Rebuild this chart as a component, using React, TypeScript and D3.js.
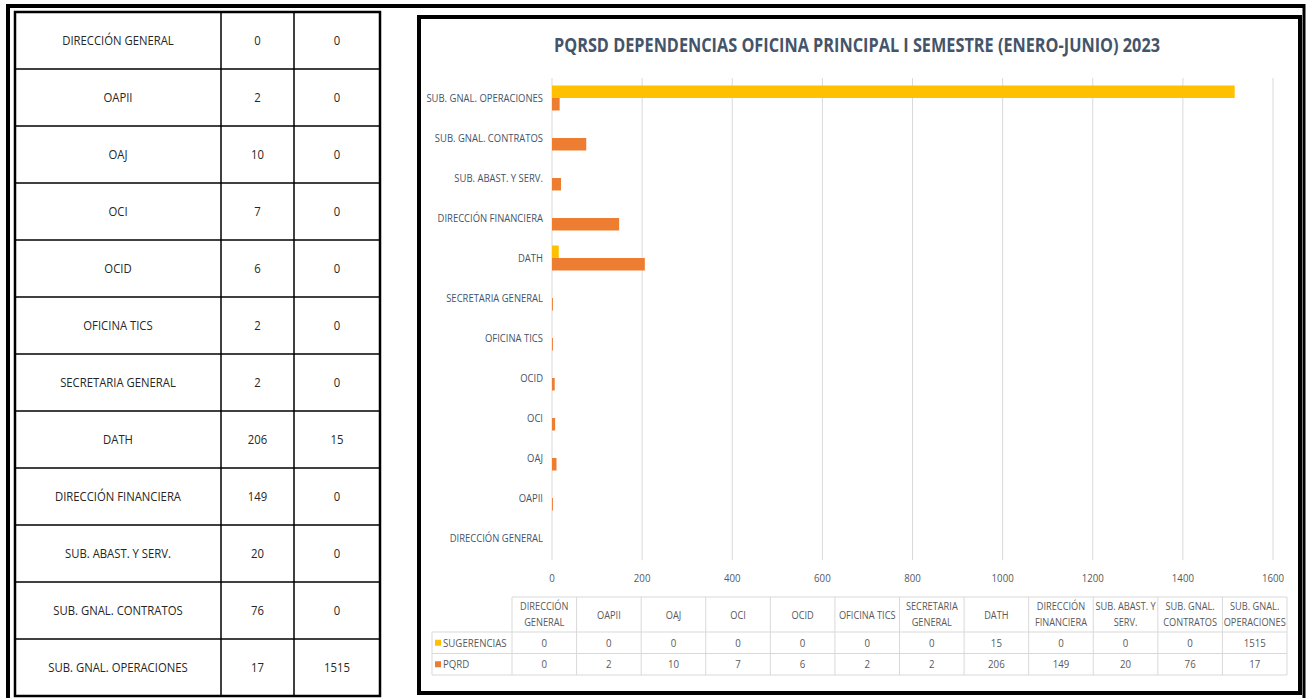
import React from "react";
import * as d3 from "d3";

const categories = [
  "DIRECCIÓN GENERAL",
  "OAPII",
  "OAJ",
  "OCI",
  "OCID",
  "OFICINA TICS",
  "SECRETARIA GENERAL",
  "DATH",
  "DIRECCIÓN FINANCIERA",
  "SUB. ABAST. Y SERV.",
  "SUB. GNAL. CONTRATOS",
  "SUB. GNAL. OPERACIONES",
];
const tableHeaders = [
  ["DIRECCIÓN", "GENERAL"],
  ["OAPII"],
  ["OAJ"],
  ["OCI"],
  ["OCID"],
  ["OFICINA TICS"],
  ["SECRETARIA", "GENERAL"],
  ["DATH"],
  ["DIRECCIÓN", "FINANCIERA"],
  ["SUB. ABAST. Y", "SERV."],
  ["SUB. GNAL.", "CONTRATOS"],
  ["SUB. GNAL.", "OPERACIONES"],
];
const pqrd = [0, 2, 10, 7, 6, 2, 2, 206, 149, 20, 76, 17];
const sugerencias = [0, 0, 0, 0, 0, 0, 0, 15, 0, 0, 0, 1515];
const seriesNames = ["SUGERENCIAS", "PQRD"];
const xTicks = [0, 200, 400, 600, 800, 1000, 1200, 1400, 1600];
const title = "PQRSD DEPENDENCIAS OFICINA PRINCIPAL I SEMESTRE (ENERO-JUNIO) 2023";

const YELLOW = "#FFC000";
const ORANGE = "#ED7D31";
const FONT = "'Open Sans', sans-serif";

type NTextProps = {
  x: number;
  y: number;
  sx?: number;
  anchor?: "start" | "middle" | "end";
  size?: number;
  fill?: string;
  children: React.ReactNode;
};

function NText({ x, y, sx = 0.86, anchor = "middle", size = 11, fill = "#595959", children }: NTextProps) {
  return (
    <text
      transform={`translate(${x},${y}) scale(${sx},1)`}
      textAnchor={anchor}
      dominantBaseline="central"
      fontFamily={FONT}
      fontSize={size}
      fill={fill}
    >
      {children}
    </text>
  );
}

export default function App() {
  // left table
  const tRowH = 57;
  const tTop = 12;
  const tLeft = 15;
  const tRight = 380;
  const col1 = 221;
  const col2 = 294;

  // chart
  const x = d3.scaleLinear().domain([0, 1600]).range([552, 1273]);
  const y = d3
    .scaleBand<string>()
    .domain([...categories].reverse())
    .range([78, 558])
    .paddingInner(0.375)
    .paddingOuter(0.1875);
  const sub = d3.scaleBand<string>().domain(seriesNames).range([0, y.bandwidth()]);
  const values: Record<string, number[]> = {
    SUGERENCIAS: sugerencias,
    PQRD: pqrd,
  };
  const colors: Record<string, string> = { SUGERENCIAS: YELLOW, PQRD: ORANGE };

  // data table
  const dtLeft = 512;
  const dtRight = 1287;
  const colW = (dtRight - dtLeft) / categories.length;
  const legLeft = 432;
  const hTop = 597;
  const r1 = 632;
  const r2 = 653.5;
  const r3 = 675;

  return (
    <svg width={1310} height={698} style={{ position: "absolute", left: 0, top: 0, background: "#fff" }}>
      {/* outer frame */}
      <line x1={6} x2={1305} y1={6} y2={6} stroke="#000" strokeWidth={4} />
      <line x1={8} x2={8} y1={4} y2={698} stroke="#000" strokeWidth={4} />
      <line x1={1304} x2={1304} y1={4} y2={698} stroke="#000" strokeWidth={3} />

      {/* left table */}
      <g>
        <rect
          x={tLeft}
          y={tTop}
          width={tRight - tLeft}
          height={tRowH * categories.length}
          fill="#fff"
          stroke="#000"
          strokeWidth={2.5}
        />
        {categories.map((c, i) => {
          const cy = tTop + i * tRowH + tRowH / 2;
          return (
            <g key={c}>
              {i > 0 && (
                <line x1={tLeft} x2={tRight} y1={tTop + i * tRowH} y2={tTop + i * tRowH} stroke="#000" strokeWidth={1.5} />
              )}
              <NText x={(tLeft + col1) / 2} y={cy} size={13} sx={0.87} fill="#262626">
                {c}
              </NText>
              <NText x={(col1 + col2) / 2} y={cy} size={13} sx={0.87} fill="#262626">
                {pqrd[i]}
              </NText>
              <NText x={(col2 + tRight) / 2} y={cy} size={13} sx={0.87} fill="#262626">
                {sugerencias[i]}
              </NText>
            </g>
          );
        })}
        <line x1={col1} x2={col1} y1={tTop} y2={tTop + tRowH * 12} stroke="#000" strokeWidth={1.5} />
        <line x1={col2} x2={col2} y1={tTop} y2={tTop + tRowH * 12} stroke="#000" strokeWidth={1.5} />
      </g>

      {/* chart box */}
      <rect x={419} y={17} width={881} height={676} fill="#fff" stroke="#000" strokeWidth={4} />

      <text
        x={857}
        y={52}
        textAnchor="middle"
        fontFamily={FONT}
        fontWeight="bold"
        fontSize={19}
        fill="#44546A"
        textLength={606}
        lengthAdjust="spacingAndGlyphs"
      >
        {title}
      </text>

      {/* gridlines & ticks */}
      {xTicks.map((t) => (
        <g key={t}>
          <line x1={x(t)} x2={x(t)} y1={78} y2={560} stroke="#D9D9D9" strokeWidth={1} />
          <NText x={x(t)} y={578} size={11} sx={0.88}>
            {t}
          </NText>
        </g>
      ))}

      {/* bars and category labels */}
      {categories.map((c, i) => (
        <g key={c}>
          <NText x={543} y={(y(c) ?? 0) + y.bandwidth() / 2} anchor="end" size={11} sx={0.86} fill="#44546A">
            {c}
          </NText>
          {seriesNames.map((s) => {
            const v = values[s][i];
            if (v <= 0) return null;
            return (
              <rect
                key={s}
                x={x(0)}
                y={(y(c) ?? 0) + (sub(s) ?? 0)}
                width={x(v) - x(0)}
                height={sub.bandwidth()}
                fill={colors[s]}
              />
            );
          })}
        </g>
      ))}

      {/* data table */}
      <g>
        <line x1={dtLeft} x2={dtRight} y1={hTop} y2={hTop} stroke="#D9D9D9" />
        <line x1={legLeft} x2={dtRight} y1={r1} y2={r1} stroke="#D9D9D9" />
        <line x1={legLeft} x2={dtRight} y1={r2} y2={r2} stroke="#D9D9D9" />
        <line x1={legLeft} x2={dtRight} y1={r3} y2={r3} stroke="#D9D9D9" />
        <line x1={legLeft} x2={legLeft} y1={r1} y2={r3} stroke="#D9D9D9" />
        {d3.range(categories.length + 1).map((k) => (
          <line key={k} x1={dtLeft + k * colW} x2={dtLeft + k * colW} y1={hTop} y2={r3} stroke="#D9D9D9" />
        ))}
        {tableHeaders.map((h, k) =>
          h.map((line, j) => (
            <NText
              key={`${k}-${j}`}
              x={dtLeft + (k + 0.5) * colW}
              y={h.length === 1 ? (hTop + r1) / 2 : hTop + 9 + j * 16}
              size={11}
              sx={0.84}
            >
              {line}
            </NText>
          ))
        )}
        {seriesNames.map((s, si) => {
          const top = si === 0 ? r1 : r2;
          const bot = si === 0 ? r2 : r3;
          const cy = (top + bot) / 2;
          return (
            <g key={s}>
              <rect x={435} y={cy - 3} width={6} height={6} fill={colors[s]} />
              <NText x={443} y={cy} anchor="start" size={11} sx={0.88}>
                {s}
              </NText>
              {values[s].map((v, k) => (
                <NText key={k} x={dtLeft + (k + 0.5) * colW} y={cy} size={11} sx={0.88}>
                  {v}
                </NText>
              ))}
            </g>
          );
        })}
      </g>
    </svg>
  );
}
